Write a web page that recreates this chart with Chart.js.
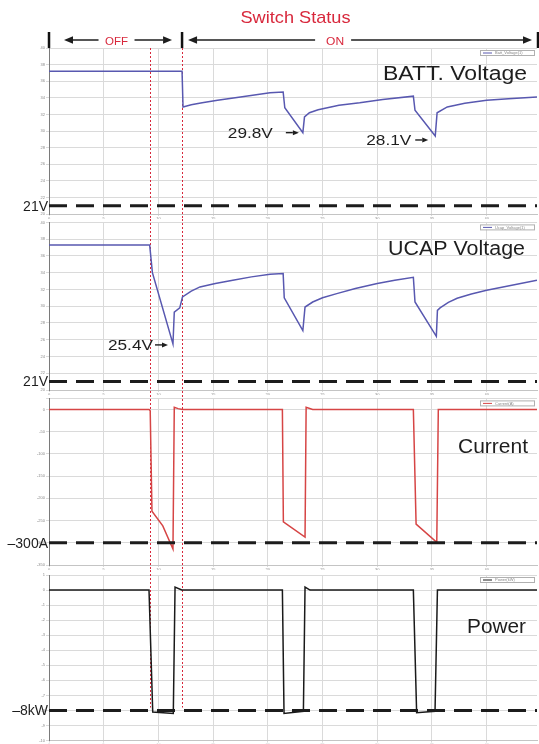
<!DOCTYPE html>
<html>
<head>
<meta charset="utf-8">
<script src="https://cdn.jsdelivr.net/npm/chart.js@4.4.0/dist/chart.umd.min.js"></script>
<style>
  html, body { margin: 0; padding: 0; background: #fff; }
  body { width: 539px; height: 744px; position: relative; overflow: hidden; }
  canvas { position: absolute; left: 0; }
</style>
</head>
<body>
<canvas id="batt" width="539" height="219" style="top:0"></canvas>
<canvas id="ucap" width="539" height="176" style="top:219px"></canvas>
<canvas id="curr" width="539" height="175" style="top:395px"></canvas>
<canvas id="pow" width="539" height="174" style="top:570px"></canvas>
<script>
// time axis (s) and switch instants
const timeTicks = [0, 5, 10, 15, 20, 25, 30, 35, 40];
const timeEnd = 44.6;
const switchMarks = [9.2, 12.16];

const voltTicks = [20, 22, 24, 26, 28, 30, 32, 34, 36, 38, 40];
const currTicks = [-350, -300, -250, -200, -150, -100, -50, 0, 25];
const powTicks = [-10, -9, -8, -7, -6, -5, -4, -3, -2, -1, 0, 1];

// battery voltage (V)
const battT = [0, 12.16, 12.25, 13.0, 14.0, 15.4, 17.5, 20.2, 21.4, 21.55, 23.2, 23.35, 23.8, 24.6, 26.5,
               28.4, 30.5, 33.3, 33.45, 35.3, 35.47, 36.4, 38.0, 40.0, 42.0, 44.6];
const battV = [37.2, 37.2, 32.9, 33.15, 33.4, 33.7, 34.1, 34.6, 34.7, 32.8, 29.8, 31.7, 32.2, 32.55, 33.1,
               33.4, 33.8, 34.2, 32.5, 29.4, 32.2, 32.9, 33.35, 33.7, 33.9, 34.1];

// ultracap voltage (V)
const ucapT = [0, 9.2, 9.45, 11.33, 11.45, 11.95, 12.2, 13.0, 13.8, 15.2, 16.8, 18.5, 20.2, 21.4, 21.5, 23.2,
               23.4, 24.1, 25.0, 26.3, 28.0, 30.0, 31.6, 33.3, 33.45, 35.4, 35.5, 35.74, 36.5, 37.3, 38.6,
               40.0, 42.3, 44.6];
const ucapV = [37.3, 37.3, 34.0, 25.5, 29.3, 29.8, 31.1, 31.8, 32.3, 32.7, 33.1, 33.5, 33.8, 33.9, 31.0, 27.1,
               29.9, 30.5, 31.0, 31.5, 32.1, 32.7, 33.1, 33.45, 30.5, 26.4, 29.5, 29.8, 30.45, 30.95, 31.45,
               31.9, 32.5, 33.1];

// current (A)
const currT = [0, 9.15, 9.25, 9.41, 10.4, 11.33, 11.45, 11.8, 12.2, 21.33, 21.42, 23.4, 23.5, 24.1, 33.3, 33.55, 35.44, 35.58, 44.6];
const currA = [0, 0, -3, -229, -262, -314, 5, 2, 0, 0, -253, -287, 5, 0, 0, -258, -299, 0, 0];

// power (kW)
const powT = [0, 9.14, 9.48, 11.36, 11.52, 12.13, 21.33, 21.48, 23.25, 23.4, 23.86, 33.3, 33.6, 35.28, 35.5, 44.6];
const powKW = [0, 0, -8.1, -8.2, 0.2, 0, 0, -8.2, -8.05, 0.2, 0, 0, -8.15, -8.05, 0, 0];

const battLimit = 21, ucapLimit = 21, currLimit = -300, powLimit = -8;

const FONT = '"Liberation Sans", Arial, sans-serif';
const RED = '#d8283c';
const INK = '#1e1e1e';

function stretchText(ctx, str, x, y, size, color, align, width, baseline) {
  ctx.save();
  ctx.font = size + 'px ' + FONT;
  ctx.fillStyle = color;
  ctx.textAlign = 'left';
  ctx.textBaseline = baseline || 'alphabetic';
  const w0 = ctx.measureText(str).width;
  const w = width || w0;
  const left = align === 'right' ? x - w : align === 'center' ? x - w / 2 : x;
  ctx.translate(left, y);
  ctx.scale(w / w0, 1);
  ctx.fillText(str, 0, 0);
  ctx.restore();
}

// line from x0 to tip x1 with a filled head at x1
function arrow(ctx, x0, x1, y, lw, head) {
  const dir = x1 > x0 ? 1 : -1;
  ctx.save();
  ctx.strokeStyle = INK; ctx.fillStyle = INK; ctx.lineWidth = lw;
  ctx.beginPath(); ctx.moveTo(x0, y); ctx.lineTo(x1 - dir * head, y); ctx.stroke();
  ctx.beginPath();
  ctx.moveTo(x1, y);
  ctx.lineTo(x1 - dir * head, y - head * 0.42);
  ctx.lineTo(x1 - dir * head, y + head * 0.42);
  ctx.closePath(); ctx.fill();
  ctx.restore();
}

function drawHeader(chart) {
  const { ctx, chartArea: a, scales: { x } } = chart;
  const xa = x.getPixelForValue(0), xb = x.getPixelForValue(switchMarks[1]), xc = a.right + 1;
  ctx.save();
  ctx.strokeStyle = '#111'; ctx.lineWidth = 2.5;
  [xa, xb, xc].forEach(px => {
    ctx.beginPath(); ctx.moveTo(px, a.top - 16); ctx.lineTo(px, a.top); ctx.stroke();
  });
  ctx.restore();
  stretchText(ctx, 'Switch Status', (xa + xc) / 2 + 2, 23, 17, RED, 'center', 110);
  const ay = a.top - 8;
  const offX = (xa + xb) / 2 + 1;
  stretchText(ctx, 'OFF', offX, ay + 4.5, 11.5, RED, 'center', 23);
  arrow(ctx, offX - 18, xa + 15, ay, 1.5, 9);
  arrow(ctx, offX + 18, xb - 10, ay, 1.5, 9);
  const onX = xb + (xc - xb) * 0.43;
  stretchText(ctx, 'ON', onX, ay + 4.5, 11.5, RED, 'center', 18);
  arrow(ctx, onX - 20, xb + 6, ay, 1.5, 9);
  arrow(ctx, onX + 16, xc - 6, ay, 1.5, 9);
}

function decor(p) {
  return {
    id: 'decor_' + p.id,
    beforeDatasetsDraw(chart) {
      const { ctx, chartArea: a, scales: { x, y } } = chart;
      const y0 = p.markFromArea ? a.top : 0;
      const y1 = p.markEnd !== undefined ? y.getPixelForValue(p.markEnd) : chart.height;
      ctx.save();
      ctx.strokeStyle = RED; ctx.lineWidth = 1; ctx.setLineDash([2, 2]);
      switchMarks.forEach(t => {
        const px = Math.round(x.getPixelForValue(t)) + 0.5;
        ctx.beginPath(); ctx.moveTo(px, y0); ctx.lineTo(px, y1); ctx.stroke();
      });
      ctx.restore();
    },
    afterDraw(chart) {
      const { ctx, chartArea: a, scales: { x, y } } = chart;
      // threshold label
      stretchText(ctx, p.limitLabel, a.left - 1, y.getPixelForValue(p.limit) + 1, 14, INK, 'right', null, 'middle');
      // panel title
      stretchText(ctx, p.title, a.right - p.titleRight, a.top + p.titleBase, 19.5, INK, 'right', p.titleWidth);
      // tiny legend box
      const w = 54, x0 = a.right - w - 3, y0 = a.top + 2;
      ctx.save();
      ctx.fillStyle = '#fff'; ctx.fillRect(x0, y0, w, 5);
      ctx.strokeStyle = '#b0b0b0'; ctx.lineWidth = 1; ctx.strokeRect(x0 + 0.5, y0 + 0.5, w, 5);
      ctx.strokeStyle = p.color; ctx.beginPath(); ctx.moveTo(x0 + 3, y0 + 3); ctx.lineTo(x0 + 12, y0 + 3); ctx.stroke();
      ctx.font = '4px ' + FONT; ctx.fillStyle = '#888'; ctx.textBaseline = 'middle';
      ctx.fillText(p.legend, x0 + 15, y0 + 3);
      ctx.restore();
      // value call-outs
      (p.notes || []).forEach(n => {
        const px = x.getPixelForValue(n.t), py = y.getPixelForValue(n.v) + n.dy;
        const tip = px + n.dx, tail = tip - 13;
        arrow(ctx, tail, tip, py, 1.4, 6);
        stretchText(ctx, n.text, tail - n.gap, py + 1, 15, INK, 'right', 45, 'middle');
      });
      if (p.header) drawHeader(chart);
    }
  };
}

function makePanel(p) {
  const pts = p.t.map((t, i) => ({ x: t, y: p.v[i] }));
  return new Chart(document.getElementById(p.id), {
    type: 'line',
    data: {
      datasets: [
        { data: [{ x: 0, y: p.limit }, { x: timeEnd, y: p.limit }], borderColor: '#1c1c1c',
          borderWidth: 3, borderDash: [18, 9], pointRadius: 0 },
        { data: pts, borderColor: p.color, borderWidth: 1.5, pointRadius: 0, tension: 0 }
      ]
    },
    options: {
      responsive: false, animation: false, devicePixelRatio: 1, events: [],
      layout: { padding: { top: p.padTop, right: 2, left: 0, bottom: 0 } },
      plugins: { legend: { display: false }, tooltip: { enabled: false } },
      scales: {
        x: {
          type: 'linear', min: 0, max: timeEnd,
          afterBuildTicks: s => { s.ticks = timeTicks.map(v => ({ value: v })); },
          afterFit: s => { s.height = p.xh; },
          grid: { color: '#dadada', tickLength: 2 },
          border: { color: '#c4c4c4' },
          ticks: { font: { size: 4 }, color: '#8a8a8a', padding: 0, maxRotation: 0, autoSkip: false }
        },
        y: {
          min: p.min, max: p.max,
          afterBuildTicks: s => { s.ticks = p.ticks.map(v => ({ value: v })); },
          afterFit: s => { s.width = 49; },
          grid: { color: '#dadada', tickLength: 3 },
          border: { color: '#7a7a7a', width: 1 },
          ticks: { font: { size: 4 }, color: '#8a8a8a', padding: 1,
                   callback: v => (p.hide || []).includes(v) ? '' : v }
        }
      }
    },
    plugins: [decor(p)]
  });
}

makePanel({
  id: 'batt', t: battT, v: battV, color: '#5858b0',
  min: 20, max: 40, ticks: voltTicks, limit: battLimit, limitLabel: '21V',
  padTop: 48, xh: 5, markFromArea: true, header: true,
  title: 'BATT. Voltage', titleRight: 10, titleBase: 32, titleWidth: 144,
  legend: 'Batt_Voltage(1)',
  notes: [
    { t: 23.2, v: 29.8, text: '29.8V', dx: -4, dy: 0, gap: 13 },
    { t: 35.3, v: 29.4, text: '28.1V', dx: -7, dy: 4, gap: 4 }
  ]
});

makePanel({
  id: 'ucap', t: ucapT, v: ucapV, color: '#5858b0',
  min: 20, max: 40, ticks: voltTicks, limit: ucapLimit, limitLabel: '21V',
  padTop: 3, xh: 5,
  title: 'UCAP Voltage', titleRight: 12, titleBase: 33, titleWidth: 137,
  legend: 'Ucap_Voltage(1)',
  notes: [
    { t: 11.33, v: 25.5, text: '25.4V', dx: -5, dy: 1, gap: 2 }
  ]
});

makePanel({
  id: 'curr', t: currT, v: currA, color: '#d64545',
  min: -350, max: 25, ticks: currTicks, hide: [25], limit: currLimit, limitLabel: '–300A',
  padTop: 3, xh: 5,
  title: 'Current', titleRight: 9, titleBase: 55, titleWidth: 70,
  legend: 'Current(A)'
});

makePanel({
  id: 'pow', t: powT, v: powKW, color: '#1a1a1a',
  min: -10, max: 1, ticks: powTicks, limit: powLimit, limitLabel: '–8kW',
  padTop: 5, xh: 3, markEnd: -7.8,
  title: 'Power', titleRight: 11, titleBase: 58, titleWidth: 59,
  legend: 'Power(kW)'
});
</script>
</body>
</html>
